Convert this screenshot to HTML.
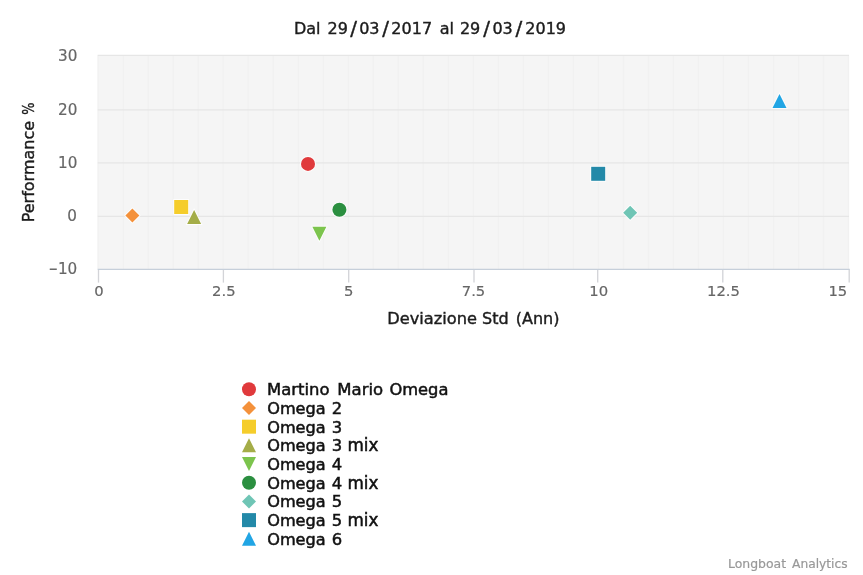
<!DOCTYPE html>
<html lang="it"><head><meta charset="utf-8"><title>Dal 29/03/2017 al 29/03/2019</title>
<style>html,body{margin:0;padding:0;background:#fff;overflow:hidden}svg{display:block;will-change:transform}text{font-family:"DejaVu Sans", "Liberation Sans", sans-serif}.d{fill:#111;stroke:#111;stroke-width:.5px}.t{fill:#1c1c1c;stroke:#1c1c1c;stroke-width:.4px}.g{fill:#666;stroke:#666;stroke-width:.18px}.c{fill:#999;stroke:#999;stroke-width:.2px}</style>
</head><body>
<svg width="863" height="575" viewBox="0 0 863 575">
<rect x="0" y="0" width="863" height="575" fill="#ffffff"/>
<rect x="97.7" y="55.4" width="751.1" height="214" fill="#f5f5f5"/>
<g stroke="#f1f1f1" stroke-width="1.33">
<line x1="98.20" y1="55.4" x2="98.20" y2="269.3"/>
<line x1="123.21" y1="55.4" x2="123.21" y2="269.3"/>
<line x1="148.22" y1="55.4" x2="148.22" y2="269.3"/>
<line x1="173.23" y1="55.4" x2="173.23" y2="269.3"/>
<line x1="198.24" y1="55.4" x2="198.24" y2="269.3"/>
<line x1="223.25" y1="55.4" x2="223.25" y2="269.3"/>
<line x1="248.26" y1="55.4" x2="248.26" y2="269.3"/>
<line x1="273.27" y1="55.4" x2="273.27" y2="269.3"/>
<line x1="298.28" y1="55.4" x2="298.28" y2="269.3"/>
<line x1="323.29" y1="55.4" x2="323.29" y2="269.3"/>
<line x1="348.30" y1="55.4" x2="348.30" y2="269.3"/>
<line x1="373.31" y1="55.4" x2="373.31" y2="269.3"/>
<line x1="398.32" y1="55.4" x2="398.32" y2="269.3"/>
<line x1="423.33" y1="55.4" x2="423.33" y2="269.3"/>
<line x1="448.34" y1="55.4" x2="448.34" y2="269.3"/>
<line x1="473.35" y1="55.4" x2="473.35" y2="269.3"/>
<line x1="498.36" y1="55.4" x2="498.36" y2="269.3"/>
<line x1="523.37" y1="55.4" x2="523.37" y2="269.3"/>
<line x1="548.38" y1="55.4" x2="548.38" y2="269.3"/>
<line x1="573.39" y1="55.4" x2="573.39" y2="269.3"/>
<line x1="598.40" y1="55.4" x2="598.40" y2="269.3"/>
<line x1="623.41" y1="55.4" x2="623.41" y2="269.3"/>
<line x1="648.42" y1="55.4" x2="648.42" y2="269.3"/>
<line x1="673.43" y1="55.4" x2="673.43" y2="269.3"/>
<line x1="698.44" y1="55.4" x2="698.44" y2="269.3"/>
<line x1="723.45" y1="55.4" x2="723.45" y2="269.3"/>
<line x1="748.46" y1="55.4" x2="748.46" y2="269.3"/>
<line x1="773.47" y1="55.4" x2="773.47" y2="269.3"/>
<line x1="798.48" y1="55.4" x2="798.48" y2="269.3"/>
<line x1="823.49" y1="55.4" x2="823.49" y2="269.3"/>
<line x1="848.50" y1="55.4" x2="848.50" y2="269.3"/>
</g>
<g stroke="#e6e6e6" stroke-width="1.33">
<line x1="97.7" y1="55.40" x2="849" y2="55.40"/>
<line x1="97.7" y1="109.90" x2="849" y2="109.90"/>
<line x1="97.7" y1="162.90" x2="849" y2="162.90"/>
<line x1="97.7" y1="216.30" x2="849" y2="216.30"/>
</g>
<g stroke="#d3d4d8" stroke-width="1.33">
<line x1="98.50" y1="269.3" x2="98.50" y2="282.6"/>
<line x1="223.40" y1="269.3" x2="223.40" y2="282.6"/>
<line x1="348.70" y1="269.3" x2="348.70" y2="282.6"/>
<line x1="474.00" y1="269.3" x2="474.00" y2="282.6"/>
<line x1="597.70" y1="269.3" x2="597.70" y2="282.6"/>
<line x1="722.80" y1="269.3" x2="722.80" y2="282.6"/>
<line x1="849.20" y1="269.3" x2="849.20" y2="282.6"/>
</g>
<line x1="97.7" y1="269.35" x2="849.7" y2="269.35" stroke="#c6cfda" stroke-width="1.33"/>
<text font-size="16" class="t"><tspan x="293.95" y="34">Dal </tspan><tspan x="327.55" y="34">29</tspan><tspan x="350.15" y="35.3" font-size="20">/</tspan><tspan x="359.20" y="34">03</tspan><tspan x="382.30" y="35.3" font-size="20">/</tspan><tspan x="391.35" y="34">2017 </tspan><tspan x="439.70" y="34">al </tspan><tspan x="459.95" y="34">29</tspan><tspan x="483.20" y="35.3" font-size="20">/</tspan><tspan x="492.45" y="34">03</tspan><tspan x="515.55" y="35.3" font-size="20">/</tspan><tspan x="525.30" y="34">2019</tspan></text>
<g font-size="15.2" class="g" text-anchor="end">
<text x="77.4" y="61.4">30</text>
<text x="77.4" y="115.0">20</text>
<text x="77.4" y="167.5">10</text>
<text x="76.9" y="221.3">0</text>
</g>
<text y="274.3" font-size="15.2" class="g"><tspan x="48.65" textLength="9.1" lengthAdjust="spacingAndGlyphs">−</tspan><tspan x="57.9">10</tspan></text>
<g font-size="14.8" class="g" text-anchor="middle">
<text x="99.0" y="296">0</text>
<text x="223.8" y="296">2.5</text>
<text x="348.8" y="296">5</text>
<text x="473.5" y="296">7.5</text>
<text x="598.7" y="296">10</text>
<text x="723.5" y="296">12.5</text>
<text x="847.3" y="296" text-anchor="end">15</text>
</g>
<text y="324.2" font-size="16" class="t"><tspan x="387.2" font-size="16.25">Deviazione </tspan><tspan x="482.1">Std </tspan><tspan x="515.75">(Ann)</tspan></text>
<text transform="translate(33.8,222.3) rotate(-90)" font-size="16" class="t">Performance <tspan x="107.6" textLength="12.2" lengthAdjust="spacingAndGlyphs">%</tspan></text>
<g>
<circle cx="308.00" cy="163.90" r="7.00" fill="#e03a3c" stroke="#ffffff" stroke-opacity=".85" stroke-width="1.8" paint-order="stroke"/>
<path d="M132.40 208.60 L139.40 215.60 L132.40 222.60 L125.40 215.60Z" fill="#f4913b" stroke="#ffffff" stroke-opacity=".85" stroke-width="1.8" paint-order="stroke"/>
<rect x="174.20" y="200.00" width="14.00" height="14.00" fill="#f5cd2b" stroke="#ffffff" stroke-opacity=".85" stroke-width="1.8" paint-order="stroke"/>
<path d="M194.10 210.00 L201.10 224.00 L187.10 224.00Z" fill="#a4ad48" stroke="#ffffff" stroke-opacity=".85" stroke-width="1.8" paint-order="stroke"/>
<path d="M312.40 226.70 L326.40 226.70 L319.40 240.70Z" fill="#7cc44d" stroke="#ffffff" stroke-opacity=".85" stroke-width="1.8" paint-order="stroke"/>
<circle cx="339.40" cy="209.80" r="7.00" fill="#2b8f40" stroke="#ffffff" stroke-opacity=".85" stroke-width="1.8" paint-order="stroke"/>
<path d="M630.20 205.70 L637.20 212.70 L630.20 219.70 L623.20 212.70Z" fill="#6fc5b5" stroke="#ffffff" stroke-opacity=".85" stroke-width="1.8" paint-order="stroke"/>
<rect x="591.20" y="166.80" width="14.00" height="14.00" fill="#2389a8" stroke="#ffffff" stroke-opacity=".85" stroke-width="1.8" paint-order="stroke"/>
<path d="M779.50 93.90 L786.50 107.90 L772.50 107.90Z" fill="#21a5e4" stroke="#ffffff" stroke-opacity=".85" stroke-width="1.8" paint-order="stroke"/>
</g>
<g font-size="16" class="d">
<circle cx="249.00" cy="389.30" r="7.00" fill="#e03a3c" stroke="none"/>
<text y="395.20"><tspan x="267.1" font-size="16.45">Martino </tspan><tspan x="337.3" font-size="16.5">Mario </tspan><tspan x="389.4" font-size="16.3">Omega</tspan></text>
<path d="M249.00 400.99 L256.00 407.99 L249.00 414.99 L242.00 407.99Z" fill="#f4913b" stroke="none"/>
<text y="413.89" font-size="16.15"><tspan x="267.2">Omega </tspan><tspan dx="0.9" font-size="16.4">2</tspan></text>
<rect x="242.00" y="419.68" width="14.00" height="14.00" fill="#f5cd2b" stroke="none"/>
<text y="432.58" font-size="16.15"><tspan x="267.2">Omega </tspan><tspan dx="0.9" font-size="16.4">3</tspan></text>
<path d="M249.00 438.37 L256.00 452.37 L242.00 452.37Z" fill="#a4ad48" stroke="none"/>
<text y="451.27" font-size="16.15"><tspan x="267.2">Omega </tspan><tspan dx="0.9" font-size="16.4">3 </tspan><tspan x="347.4" font-size="16.8">mix</tspan></text>
<path d="M242.00 457.06 L256.00 457.06 L249.00 471.06Z" fill="#7cc44d" stroke="none"/>
<text y="469.96" font-size="16.15"><tspan x="267.2">Omega </tspan><tspan dx="0.9" font-size="16.4">4</tspan></text>
<circle cx="249.00" cy="482.75" r="7.00" fill="#2b8f40" stroke="none"/>
<text y="488.65" font-size="16.15"><tspan x="267.2">Omega </tspan><tspan dx="0.9" font-size="16.4">4 </tspan><tspan x="347.4" font-size="16.8">mix</tspan></text>
<path d="M249.00 494.44 L256.00 501.44 L249.00 508.44 L242.00 501.44Z" fill="#6fc5b5" stroke="none"/>
<text y="507.34" font-size="16.15"><tspan x="267.2">Omega </tspan><tspan dx="0.9" font-size="16.4">5</tspan></text>
<rect x="242.00" y="513.13" width="14.00" height="14.00" fill="#2389a8" stroke="none"/>
<text y="526.03" font-size="16.15"><tspan x="267.2">Omega </tspan><tspan dx="0.9" font-size="16.4">5 </tspan><tspan x="347.4" font-size="16.8">mix</tspan></text>
<path d="M249.00 531.82 L256.00 545.82 L242.00 545.82Z" fill="#21a5e4" stroke="none"/>
<text y="544.72" font-size="16.15"><tspan x="267.2">Omega </tspan><tspan dx="0.9" font-size="16.4">6</tspan></text>
</g>
<text y="567.6" class="c"><tspan x="728.0" font-size="12.45">Longboat </tspan><tspan x="792.0" font-size="12.25">Analytics</tspan></text>
</svg>
</body></html>
